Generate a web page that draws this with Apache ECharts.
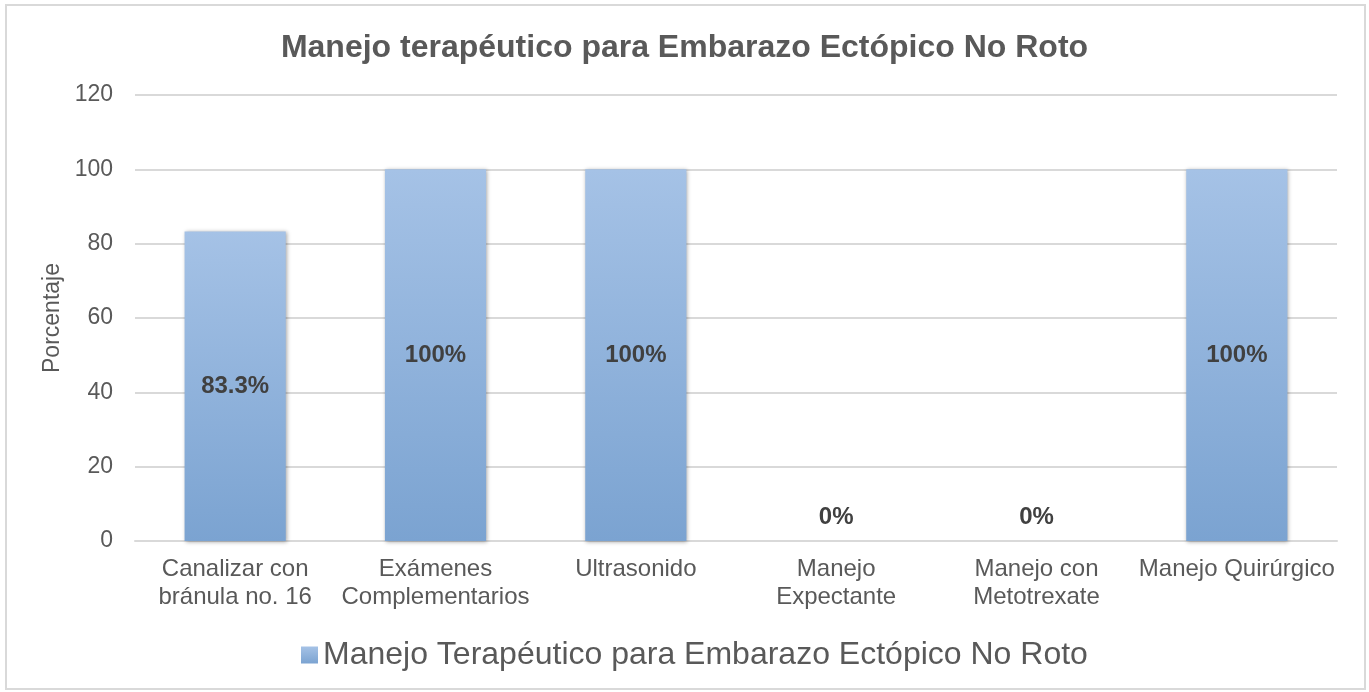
<!DOCTYPE html>
<html>
<head>
<meta charset="utf-8">
<script src="https://cdn.jsdelivr.net/npm/echarts@6/dist/echarts.min.js"></script>
<style>
    html, body { margin: 0; padding: 0; background: #fff; }
    #chart { width: 1369px; height: 692px; }
</style>
</head>
<body>
<div id="chart"></div>
<script>
// categorías y valores (porcentaje)
var categories = ['Canalizar con\nbránula no. 16', 'Exámenes\nComplementarios', 'Ultrasonido', 'Manejo\nExpectante', 'Manejo con\nMetotrexate', 'Manejo Quirúrgico'];
var values = [83.3, 100, 100, 0, 0, 100];
var valueLabels = ['83.3%', '100%', '100%', '0%', '0%', '100%'];
var yTicks = [0, 20, 40, 60, 80, 100, 120];

var seriesName = 'Manejo Terapéutico para Embarazo Ectópico No Roto';
var font = '"Liberation Sans", Arial, sans-serif';

var barColor = {
    type: 'linear', x: 0, y: 0, x2: 0, y2: 1,
    colorStops: [
        { offset: 0, color: '#a5c2e6' },
        { offset: 1, color: '#7ba3d1' }
    ]
};

var myChart = echarts.init(document.getElementById('chart'));
myChart.setOption({
    animation: false,
    textStyle: { fontFamily: font },
    title: {
        text: 'Manejo terapéutico para Embarazo Ectópico No Roto',
        left: 'center',
        top: 27,
        textStyle: { fontSize: 32, fontWeight: 'bold', color: '#595959', fontFamily: font }
    },
    legend: {
        bottom: 16,
        left: 296,
        itemWidth: 17,
        itemHeight: 17,
        itemGap: 9,
        icon: 'rect',
        textStyle: { fontSize: 32, color: '#595959', fontFamily: font },
        data: [seriesName]
    },
    grid: {
        left: 135,
        right: 32,
        top: 95,
        bottom: 151
    },
    xAxis: {
        type: 'category',
        data: categories,
        axisTick: { show: false },
        axisLine: { lineStyle: { color: '#d9d9d9', width: 2 } },
        axisLabel: {
            color: '#595959',
            fontSize: 24,
            lineHeight: 28,
            margin: 14,
            interval: 0,
            fontFamily: font
        }
    },
    yAxis: {
        type: 'value',
        min: 0,
        max: 120,
        interval: 20,
        name: 'Porcentaje',
        nameLocation: 'middle',
        nameGap: 70,
        nameTextStyle: { fontSize: 23, color: '#595959', fontFamily: font },
        axisLine: { show: false },
        axisTick: { show: false },
        axisLabel: {
            color: '#595959',
            fontSize: 23,
            margin: 22,
            fontFamily: font,
            formatter: function (v) { return yTicks.indexOf(v) >= 0 ? String(v) : ''; }
        },
        splitLine: { lineStyle: { color: '#d9d9d9', width: 2 } }
    },
    series: [{
        name: seriesName,
        type: 'bar',
        barWidth: '50.5%',
        itemStyle: {
            color: barColor,
            shadowColor: 'rgba(0,0,0,0.35)',
            shadowBlur: 4,
            shadowOffsetX: 1,
            shadowOffsetY: 1
        },
        data: values.map(function (v, i) {
            var item = { value: v, label: { formatter: valueLabels[i] } };
            if (v === 0) {
                item.label.position = 'top';
                item.label.distance = 12;
            }
            return item;
        }),
        label: {
            show: true,
            position: 'inside',
            fontSize: 24,
            fontWeight: 'bold',
            color: '#404040',
            fontFamily: font
        }
    }],
    graphic: [{
        type: 'rect',
        shape: { x: 6, y: 5, width: 1359, height: 684 },
        style: { fill: 'none', stroke: '#d9d9d9', lineWidth: 2 },
        silent: true
    }]
});
</script>
</body>
</html>
